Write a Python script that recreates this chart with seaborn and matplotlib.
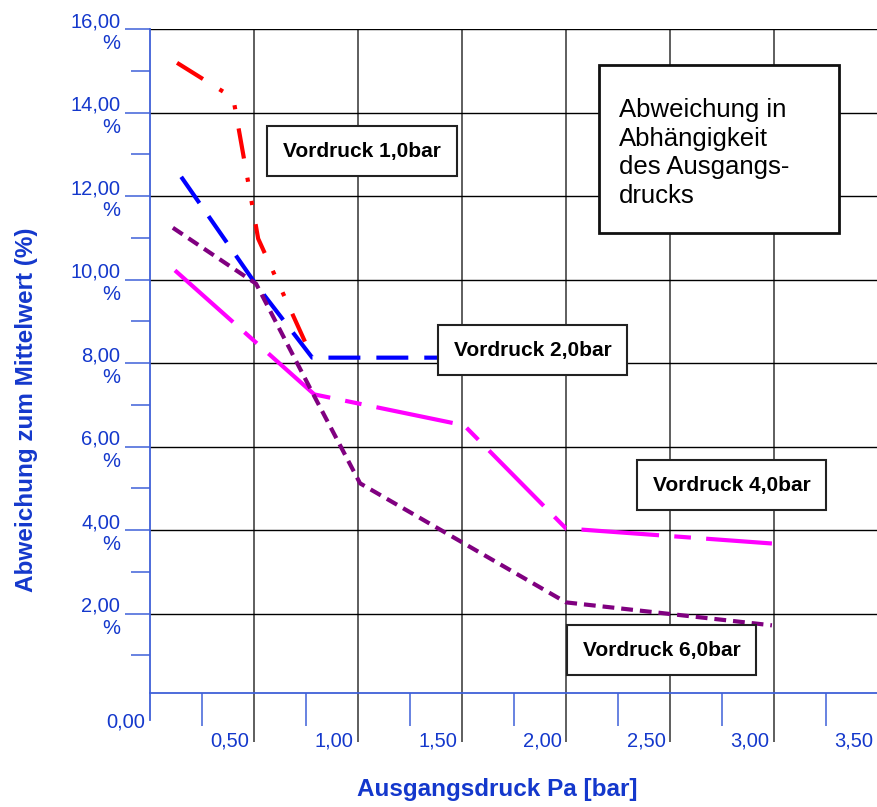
import matplotlib
matplotlib.use('Agg')
import matplotlib.pyplot as plt
import matplotlib.transforms as mtransforms
from matplotlib.patches import Rectangle
import numpy as np
import pandas as pd
import seaborn as sns

# Data (x: Ausgangsdruck in bar, y: Abweichung in %)
x_1bar = [0.13, 0.40, 0.52, 0.78]
y_1bar = [15.19, 14.35, 10.98, 8.13]
x_2bar = [0.15, 0.51, 0.78, 1.40]
y_2bar = [12.46, 9.88, 8.13, 8.13]
x_4bar = [0.12, 0.79, 1.51, 2.00, 2.99]
y_4bar = [10.22, 7.25, 6.51, 4.04, 3.68]
x_6bar = [0.11, 0.51, 0.78, 1.01, 2.00, 2.99]
y_6bar = [11.24, 9.90, 7.30, 5.12, 2.27, 1.72]

series = ['Vordruck 1,0bar', 'Vordruck 2,0bar', 'Vordruck 4,0bar', 'Vordruck 6,0bar']
x_ticks = [0.5, 1.0, 1.5, 2.0, 2.5, 3.0, 3.5]
x_labels = ['0,50', '1,00', '1,50', '2,00', '2,50', '3,00', '3,50']
y_ticks = [2, 4, 6, 8, 10, 12, 14, 16]
y_labels = ['2,00\n%', '4,00\n%', '6,00\n%', '8,00\n%', '10,00\n%', '12,00\n%', '14,00\n%', '16,00\n%']

BLUE_TEXT = '#1438cc'
BLUE_AXIS = '#3f60d8'

sns.set_style('white')
plt.rcParams['font.family'] = ['Liberation Sans', 'DejaVu Sans']
plt.rcParams['lines.scale_dashes'] = False

df = pd.concat([
    pd.DataFrame({'x': x_1bar, 'y': y_1bar, 'serie': series[0]}),
    pd.DataFrame({'x': x_2bar, 'y': y_2bar, 'serie': series[1]}),
    pd.DataFrame({'x': x_4bar, 'y': y_4bar, 'serie': series[2]}),
    pd.DataFrame({'x': x_6bar, 'y': y_6bar, 'serie': series[3]}),
], ignore_index=True)

palette = {series[0]: '#ff0000', series[1]: '#0000ff',
           series[2]: '#ff00ff', series[3]: '#800080'}
dashes = {series[0]: (22, 14, 3, 14, 3, 14), series[1]: (23, 11.5),
          series[2]: (56, 11, 12, 11), series[3]: (8.5, 5)}

fig = plt.figure(figsize=(8.78, 8.07), dpi=100)
ax = fig.add_axes([150 / 878, 114 / 807, 728 / 878, 664 / 807])
ax.set_axisbelow(True)

sns.lineplot(data=df, x='x', y='y', hue='serie', style='serie', palette=palette,
             dashes=dashes, linewidth=3, estimator=None, sort=False,
             legend=False, ax=ax)

ax.set_xlim(0, 3.5)
ax.set_ylim(0.1, 16)

# ticks
ax.set_xticks(x_ticks, x_labels)
ax.set_xticks(np.arange(0.25, 3.5, 0.5), minor=True)
ax.set_yticks(y_ticks, y_labels)
ax.set_yticks(np.arange(1, 16, 2), minor=True)

ax.tick_params(which='both', bottom=True, left=True, top=False, right=False)
ax.tick_params(axis='x', which='major', direction='out', length=35, width=1.1,
               color='#333333', labelcolor=BLUE_TEXT, labelsize=14.5, pad=-7)
ax.tick_params(axis='x', which='minor', direction='out', length=24, width=1.1,
               color=BLUE_AXIS)
ax.tick_params(axis='y', which='major', direction='out', length=18, width=1.1,
               color=BLUE_AXIS, labelcolor=BLUE_TEXT, labelsize=14.5, pad=3.5)
ax.tick_params(axis='y', which='minor', direction='out', length=13.5, width=1.1,
               color=BLUE_AXIS)

for lab in ax.get_xticklabels():
    lab.set_horizontalalignment('right')
    lab.set_transform(lab.get_transform() +
                      mtransforms.ScaledTranslation(-0.045, 0, fig.dpi_scale_trans))

# grid
ax.grid(which='major', axis='y', color='black', linewidth=1.0)
ax.grid(which='major', axis='x', color='#333333', linewidth=1.1)

# spines
for side in ['top', 'right']:
    ax.spines[side].set_visible(False)
ax.spines['left'].set_color(BLUE_AXIS)
ax.spines['bottom'].set_color(BLUE_AXIS)
ax.spines['left'].set_linewidth(1.3)
ax.spines['bottom'].set_linewidth(1.3)
ax.spines['left'].set_bounds(-0.55, 16)

ax.annotate('0,00', xy=(0, 0), xycoords='axes fraction', xytext=(-3.5, -21),
            textcoords='offset points', ha='right', va='center',
            fontsize=14.5, color=BLUE_TEXT, annotation_clip=False)

# axis labels
ax.set_xlabel('Ausgangsdruck Pa [bar]', fontsize=17.5, fontweight='bold', color=BLUE_TEXT)
ax.xaxis.set_label_coords(0.4766, -0.146)
ax.xaxis.label.set_va('center')
ax.set_ylabel('Abweichung zum Mittelwert (%)', fontsize=17.5, fontweight='bold', color=BLUE_TEXT)
ax.yaxis.label.set_fontweight('bold')
ax.yaxis.set_label_coords(-0.170, 0.426)
ax.yaxis.label.set_va('center')

# label boxes (axes fraction: x0, x1, y0, y1, text)
boxes = [
    (0.1607, 0.4217, 0.7786, 0.8539, series[0]),
    (0.3956, 0.6552, 0.4789, 0.5542, series[1]),
    (0.6690, 0.9286, 0.2756, 0.3509, series[2]),
    (0.5728, 0.8324, 0.0271, 0.1024, series[3]),
]
for x0, x1, y0, y1, txt in boxes:
    ax.add_patch(Rectangle((x0, y0), x1 - x0, y1 - y0, transform=ax.transAxes,
                           facecolor='white', edgecolor='#222222', linewidth=1.5,
                           zorder=5, clip_on=False))
    ax.text((x0 + x1) / 2, (y0 + y1) / 2, txt, transform=ax.transAxes,
            ha='center', va='center', fontsize=15, fontweight='bold',
            color='black', zorder=6)

ax.add_patch(Rectangle((0.6168, 0.6928), 0.3296, 0.2530, transform=ax.transAxes,
                       facecolor='white', edgecolor='#111111', linewidth=2,
                       zorder=5, clip_on=False))
ax.text(0.6442, 0.8133, 'Abweichung in\nAbhängigkeit\ndes Ausgangs-\ndrucks',
        transform=ax.transAxes, ha='left', va='center', fontsize=18.5,
        color='black', linespacing=1.25, zorder=6)

plt.savefig('out.png', dpi=100)
plt.close()
